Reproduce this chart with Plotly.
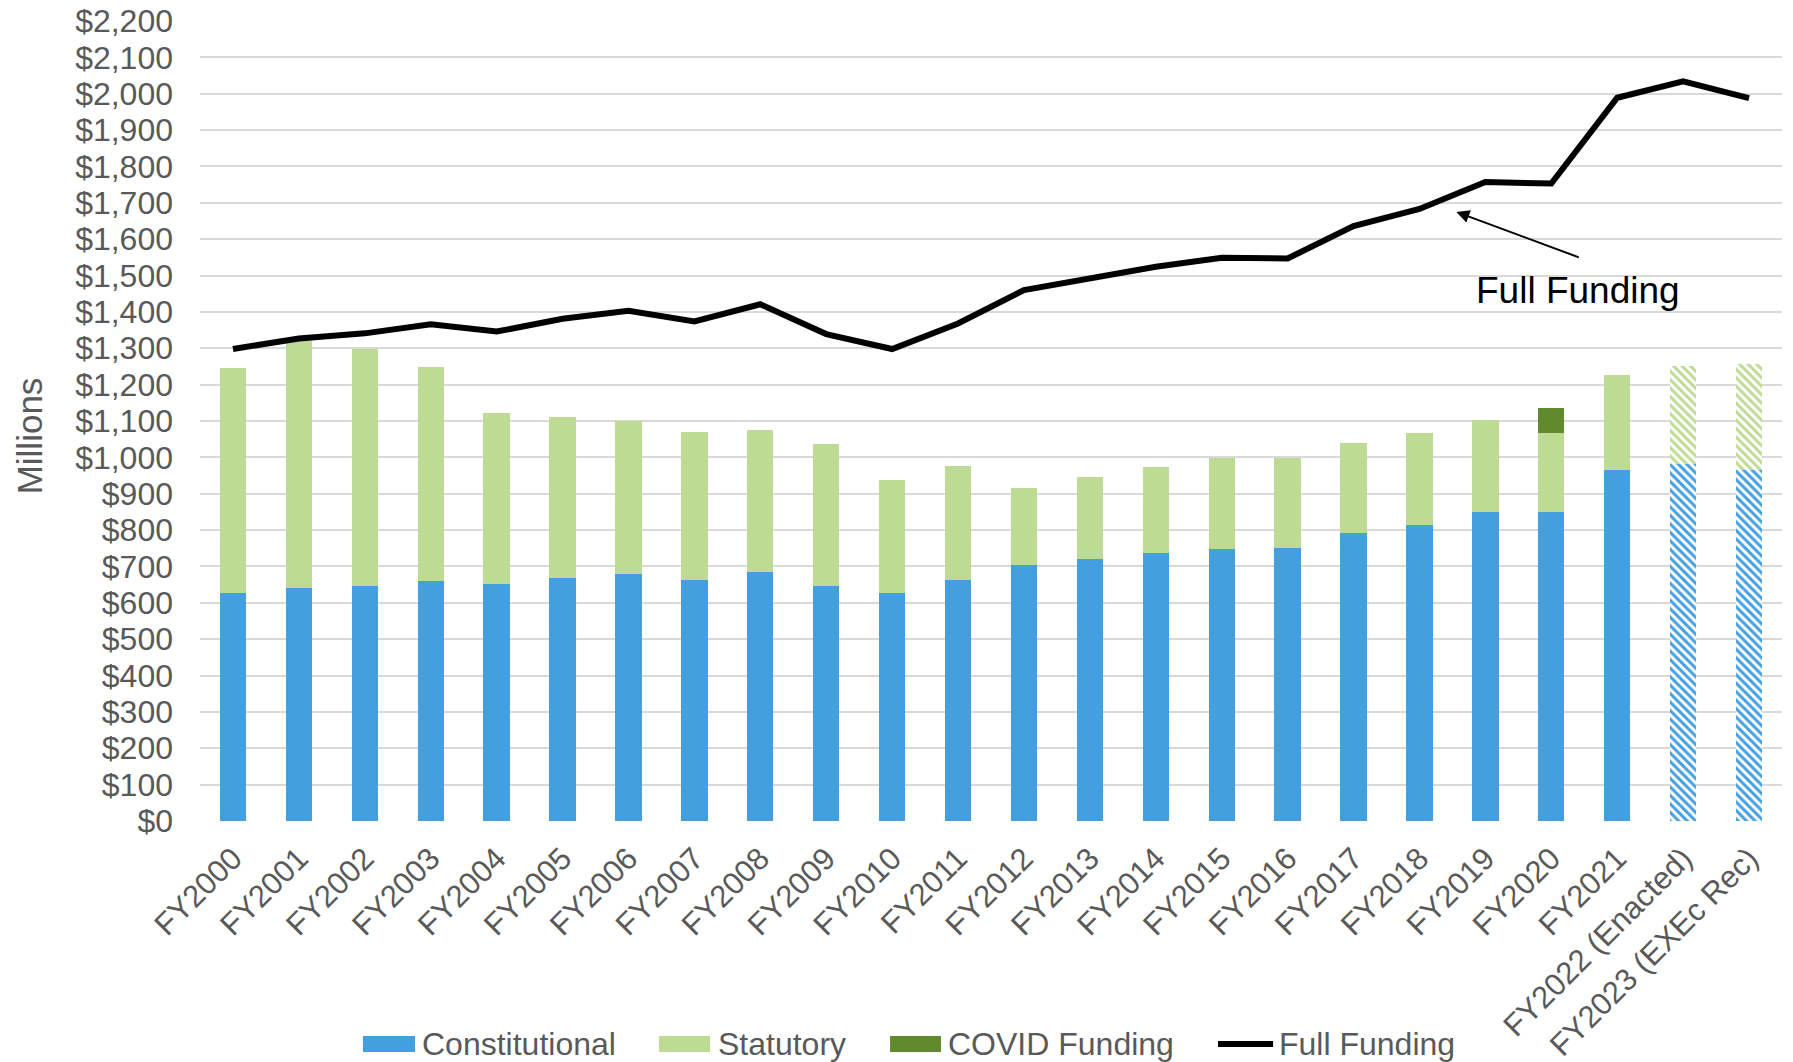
import plotly.graph_objects as go

categories = ["FY2000", "FY2001", "FY2002", "FY2003", "FY2004", "FY2005", "FY2006",
              "FY2007", "FY2008", "FY2009", "FY2010", "FY2011", "FY2012", "FY2013",
              "FY2014", "FY2015", "FY2016", "FY2017", "FY2018", "FY2019", "FY2020",
              "FY2021", "FY2022 (Enacted)", "FY2023 (EXEc Rec)"]

constitutional = [627, 642, 647, 659, 653, 667, 678, 664, 686, 647, 628, 664, 705, 720,
                  737, 748, 751, 792, 814, 849, 849, 964, 983, 964]

statutory = [619, 681, 651, 589, 468, 443, 423, 406, 389, 390, 310, 313, 211, 225,
             236, 250, 247, 248, 253, 255, 219, 262, 267, 292]

covid = [0, 0, 0, 0, 0, 0, 0, 0, 0, 0, 0, 0, 0, 0, 0, 0, 0, 0, 0, 0, 67, 0, 0, 0]

full_funding = [1298, 1327, 1341, 1366, 1346, 1381, 1403, 1374, 1421, 1339, 1298, 1368,
                1460, 1490, 1524, 1549, 1547, 1636, 1683, 1757, 1753, 1989, 2034, 1988]

projected = [False] * 22 + [True, True]

series_names = ["Constitutional", "Statutory", "COVID Funding", "Full Funding"]

BLUE = "#449FDF"
GREEN = "#BDDB92"
DKGREEN = "#618A2D"
GRAY = "#595959"
FONT = "Liberation Sans, Arial, sans-serif"

shapes = ["\\" if p else "" for p in projected]

fig = go.Figure()
fig.add_trace(go.Bar(
    x=categories, y=constitutional, name=series_names[0],
    marker=dict(color=BLUE, line=dict(width=0),
                pattern=dict(shape=shapes, fgcolor=BLUE, bgcolor="white",
                             fillmode="replace", size=6, solidity=0.5)),
))
fig.add_trace(go.Bar(
    x=categories, y=statutory, name=series_names[1],
    marker=dict(color=GREEN, line=dict(width=0),
                pattern=dict(shape=shapes, fgcolor=GREEN, bgcolor="white",
                             fillmode="replace", size=6, solidity=0.5)),
))
fig.add_trace(go.Bar(
    x=categories, y=covid, name=series_names[2],
    marker=dict(color=DKGREEN, line=dict(width=0)),
))
fig.add_trace(go.Scatter(
    x=categories, y=full_funding, name=series_names[3], mode="lines",
    line=dict(color="black", width=6),
))

# arrow annotation
fig.add_annotation(x=18.56, y=1675, xref="x", yref="y", text="", showarrow=True,
                   ax=124, ay=46, arrowhead=2, arrowsize=1.3, arrowwidth=2,
                   arrowcolor="black")
fig.add_annotation(x=20.40, y=1458, xref="x", yref="y", text="Full Funding",
                   showarrow=False, font=dict(family=FONT, size=37, color="black"))

# y-axis title (placed slightly below plot centre as in the reference)
fig.add_annotation(x=-0.108, y=0.481, xref="paper", yref="paper", text="Millions",
                   textangle=-90, showarrow=False, xanchor="center", yanchor="middle",
                   font=dict(family=FONT, size=35, color=GRAY))

# legend (drawn manually for wide swatches)
leg_y = -0.2788
half_h = 0.0100
swatches = [(0.1030, 0.1359, BLUE, 0.1391),
            (0.2901, 0.3224, GREEN, 0.3262),
            (0.4362, 0.4684, DKGREEN, 0.4716)]
for (x0, x1, col, tx), nm in zip(swatches, series_names[:3]):
    fig.add_shape(type="rect", xref="paper", yref="paper", x0=x0, x1=x1,
                  y0=leg_y - half_h, y1=leg_y + half_h, fillcolor=col,
                  line=dict(width=0))
    fig.add_annotation(x=tx, y=leg_y, xref="paper", yref="paper", text=nm,
                       showarrow=False, xanchor="left", yanchor="middle",
                       font=dict(family=FONT, size=32, color=GRAY))
fig.add_shape(type="line", xref="paper", yref="paper", x0=0.6435, x1=0.6783,
              y0=leg_y, y1=leg_y, line=dict(color="black", width=6))
fig.add_annotation(x=0.6808, y=leg_y, xref="paper", yref="paper", text=series_names[3],
                   showarrow=False, xanchor="left", yanchor="middle",
                   font=dict(family=FONT, size=32, color=GRAY))

fig.update_layout(
    width=1785, height=1054,
    margin=dict(l=192, r=11, t=13, b=241, autoexpand=False),
    paper_bgcolor="white", plot_bgcolor="white",
    barmode="stack", bargap=0.6,
    font=dict(family=FONT, size=32, color=GRAY),
    showlegend=False,
)
fig.update_yaxes(
    range=[0, 2200], dtick=100, tickprefix="$", tickformat=",",
    showgrid=True, gridcolor="#D9D9D9", gridwidth=2, zeroline=False,
    showline=False, ticks="", ticklabelstandoff=26, ticklabeloverflow="allow",
    tickfont=dict(family=FONT, size=32, color=GRAY),
)
fig.update_xaxes(
    type="category", tickangle=-45, showgrid=False, showline=False, ticks="",
    ticklabelstandoff=12, tickfont=dict(family=FONT, size=31, color=GRAY),
)

fig.write_html("out.html")
